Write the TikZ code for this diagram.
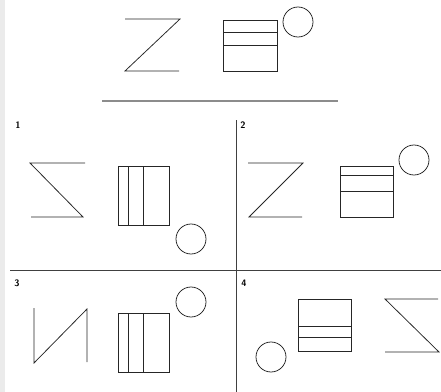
\documentclass[tikz,border=0pt]{standalone}
\usepackage{tikz}

\begin{document}
\begin{tikzpicture}[x=0.03cm,y=-0.03cm,
    figline/.style={line width=0.65pt,black!85},
    divider/.style={line width=0.7pt,black!75},
    numlabel/.style={font=\sffamily\bfseries\footnotesize,inner sep=0pt}]
    \useasboundingbox (0,0) rectangle (441,392);
    % faint strip on the left edge
    \fill[black!8] (0,0) rectangle (5,392);

    % Question: Z, striped box, circle
    \draw[figline] (125,19) -- (180,19) -- (125,71) -- (179,71);
    \draw[figline] (223,20) rectangle (277,71);
    \draw[figline] (223,32) -- (277,32) (223,45) -- (277,45);
    \draw[figline] (298,22) circle (15);

    % Separator under the question
    \draw[line width=1.5pt,black!45] (102,101) -- (338,101);

    % Grid of answers
    \draw[divider] (236,120) -- (236,392);
    \draw[divider] (10,270) -- (441,270);
    \node[numlabel] (n1) at (18,125) {1};
    \node[numlabel] (n2) at (243,125) {2};
    \node[numlabel] (n3) at (17,283) {3};
    \node[numlabel] (n4) at (244,283) {4};

    % Answer 1
    \draw[figline] (85,163) -- (30,163) -- (83,217) -- (31,217);
    \draw[figline] (118,166) rectangle (169,225);
    \draw[figline] (128,166) -- (128,225) (143,166) -- (143,225);
    \draw[figline] (191,239) circle (15);

    % Answer 2
    \draw[figline] (248,163) -- (303,163) -- (249,217) -- (302,217);
    \draw[figline] (340,166) rectangle (393,217);
    \draw[figline] (340,175) -- (393,175) (340,191) -- (393,191);
    \draw[figline] (414,160) circle (15);

    % Answer 3
    \draw[figline] (34,308) -- (34,363) -- (87,309) -- (87,362);
    \draw[figline] (118,313) rectangle (169,372);
    \draw[figline] (128,313) -- (128,372) (143,313) -- (143,372);
    \draw[figline] (191,302) circle (15);

    % Answer 4
    \draw[figline] (271,357) circle (15);
    \draw[figline] (298,299) rectangle (351,351);
    \draw[figline] (298,326) -- (351,326) (298,337) -- (351,337);
    \draw[figline] (438,299) -- (385,299) -- (439,352) -- (385,352);
\end{tikzpicture}
\end{document}
